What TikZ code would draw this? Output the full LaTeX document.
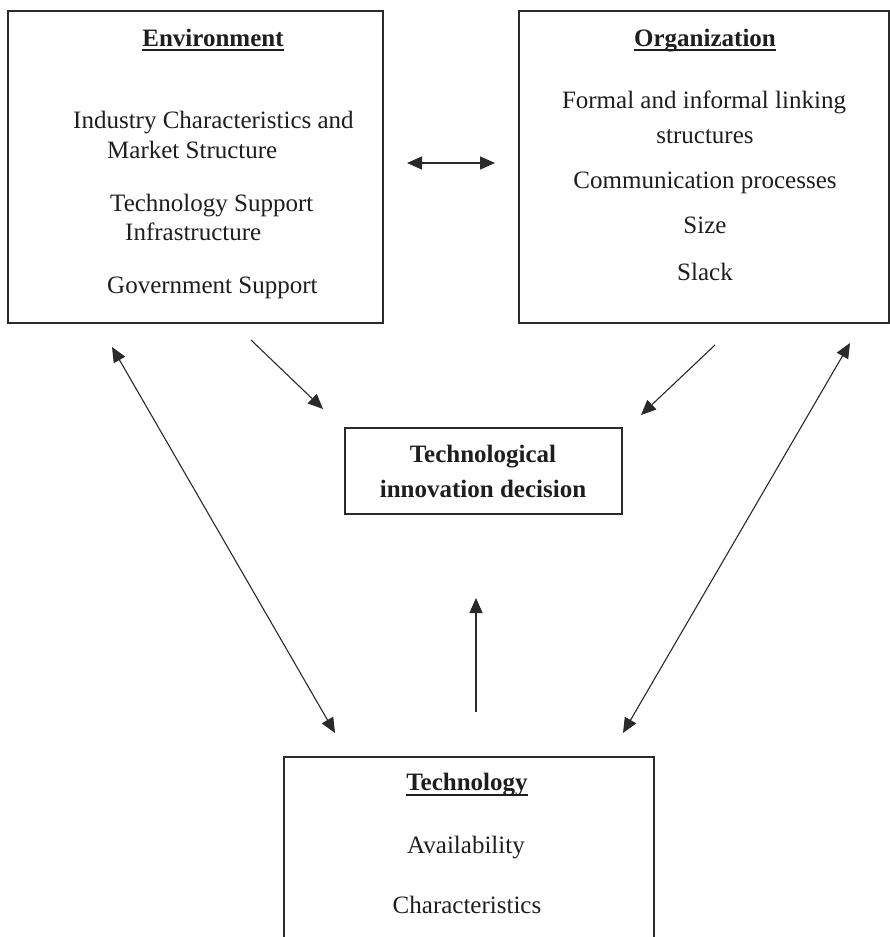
\documentclass[tikz,border=0pt]{standalone}
\usepackage{fontspec}
\setmainfont{Liberation Serif}
\usetikzlibrary{arrows.meta}
\definecolor{boxc}{HTML}{2A2A2A}
\definecolor{txtc}{HTML}{1E1E1E}
\begin{document}
\begin{tikzpicture}[x=1pt,y=-1pt,
  box/.style={draw=boxc,line width=1.6pt,inner sep=0,anchor=north west,fill=none},
  txt/.style={inner sep=0,text=txtc,font=\fontsize{25}{30}\selectfont},
  ttl/.style={inner sep=0,text=txtc,font=\fontsize{25}{30}\selectfont\bfseries},
  uline/.style={draw=txtc,line width=1.4pt},
  arr/.style={draw=boxc,line width=1.1pt,-{Triangle[length=15pt,width=13pt]}},
  darr/.style={draw=boxc,line width=1.1pt,{Triangle[length=15pt,width=13pt]}-{Triangle[length=15pt,width=13pt]}}]
\useasboundingbox[fill=white] (0,0) rectangle (890,937);
\clip (0,0) rectangle (890,937);

% boxes
\node[box,minimum width=375pt,minimum height=312pt] (env) at (7,10) {};
\node[box,minimum width=370pt,minimum height=312pt] (org) at (518,10) {};
\node[box,minimum width=277pt,minimum height=86pt] (dec) at (344,427) {};
\node[box,minimum width=370pt,minimum height=220pt] (tech) at (283,756) {};

% Environment texts
\node[ttl,anchor=base] (envt) at (213,46) {Environment};
\draw[uline] ([yshift=-4pt]envt.base west) -- ([yshift=-4pt]envt.base east);
\node[txt,anchor=base west] (e1) at (73,128) {Industry Characteristics and};
\node[txt,anchor=base west] (e2) at (107,158) {Market Structure};
\node[txt,anchor=base west] (e3) at (110,211) {Technology Support};
\node[txt,anchor=base west] (e4) at (125,240) {Infrastructure};
\node[txt,anchor=base west] (e5) at (107,293) {Government Support};

% Organization texts
\node[ttl,anchor=base] (orgt) at (705,46) {Organization};
\draw[uline] ([yshift=-4pt]orgt.base west) -- ([yshift=-4pt]orgt.base east);
\node[txt,anchor=base] (o1) at (704,108) {Formal and informal linking};
\node[txt,anchor=base] (o2) at (705,143) {structures};
\node[txt,anchor=base] (o3) at (705,188) {Communication processes};
\node[txt,anchor=base] (o4) at (705,233) {Size};
\node[txt,anchor=base] (o5) at (705,280) {Slack};

% Decision texts
\node[ttl,anchor=base] (d1) at (483,462) {Technological};
\node[ttl,anchor=base] (d2) at (483,497) {innovation decision};

% Technology texts
\node[ttl,anchor=base] (techt) at (467,790) {Technology};
\draw[uline] ([yshift=-5pt]techt.base west) -- ([yshift=-5pt]techt.base east);
\node[txt,anchor=base] (t1) at (466,853) {Availability};
\node[txt,anchor=base] (t2) at (467,913) {Characteristics};

% arrow end points
\coordinate (h1) at (407,163);
\coordinate (h2) at (495,163);
\coordinate (ea) at (251,340);
\coordinate (eb) at (323,409);
\coordinate (oa) at (715,345);
\coordinate (ob) at (641,415);
\coordinate (la) at (112,347);
\coordinate (lb) at (335,733);
\coordinate (ra) at (850,343);
\coordinate (rb) at (623,733);
\coordinate (va) at (476,712);
\coordinate (vb) at (476,598);

% connectors
\draw[darr] (h1) -- (h2);
\draw[arr] (ea) -- (eb);
\draw[arr] (oa) -- (ob);
\draw[darr] (la) -- (lb);
\draw[darr] (ra) -- (rb);
\draw[arr] (va) -- (vb);
\end{tikzpicture}
\end{document}
